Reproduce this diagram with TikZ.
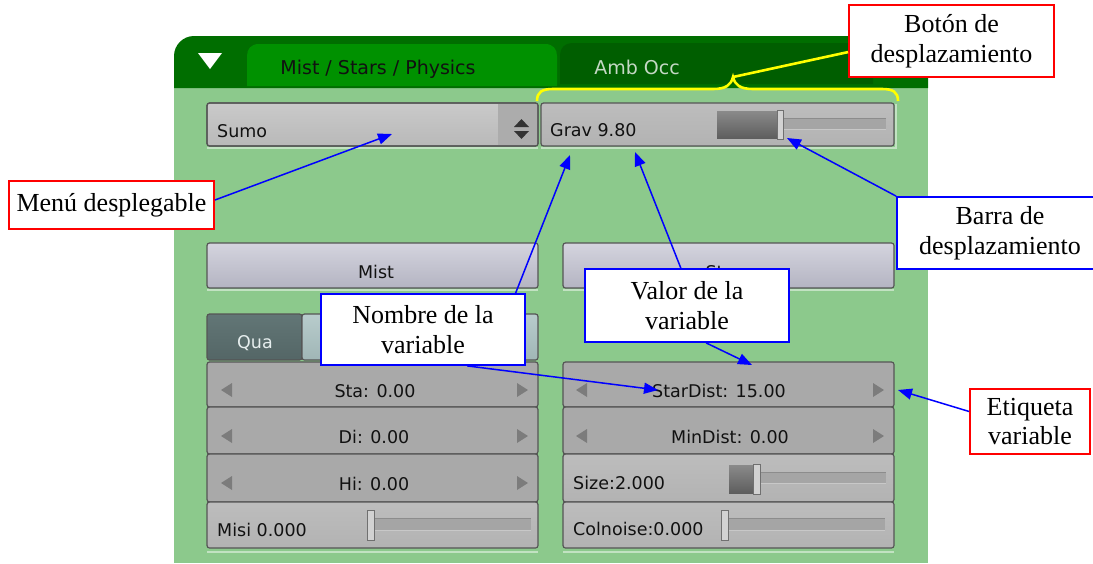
\documentclass[tikz,border=0pt]{standalone}
\usepackage{fontspec}
\setmainfont{Liberation Serif}
\newfontfamily\uifont{DejaVu Sans}
\usetikzlibrary{arrows.meta,calc}
\definecolor{bodygreen}{HTML}{8CC98C}
\definecolor{hdrgreen}{HTML}{006E00}
\definecolor{tabgreen}{HTML}{009100}
\definecolor{tabdark}{HTML}{005E00}
\definecolor{btnborder}{HTML}{555555}
\definecolor{fieldgray}{HTML}{A9A9A9}
\definecolor{arrowgray}{HTML}{7C7C7C}
\definecolor{uitext}{HTML}{111111}
\definecolor{hilite}{HTML}{C2E2C2}
\definecolor{ambtext}{HTML}{C4D8C4}
\definecolor{quatext}{HTML}{E6EEEE}
\definecolor{trackgray}{HTML}{A5A5A5}
\definecolor{trackdark}{HTML}{8C8C8C}
\definecolor{tracklight}{HTML}{C8C8C8}
\definecolor{handlegray}{HTML}{D2D2D2}
\definecolor{handleline}{HTML}{707070}
\definecolor{slidetop}{HTML}{8A8A8A}
\definecolor{slidebot}{HTML}{5E5E5E}
\definecolor{yel}{HTML}{FFFF00}
\begin{document}
\begin{tikzpicture}[x=1pt,y=-1pt,
  lbl/.style={font=\fontsize{26}{29.5}\selectfont, fill=white, align=center, line width=1.8pt, inner sep=0pt},
  redbox/.style={lbl, draw=red},
  bluebox/.style={lbl, draw=blue},
  ui/.style={font=\uifont\fontsize{17.5}{20}\selectfont, text=uitext, inner sep=0pt, anchor=base},
  uil/.style={ui, anchor=base west},
  tabtext/.style={ui, font=\uifont\fontsize{19}{22}\selectfont},
  btn/.style={draw=btnborder, line width=1.2pt, rounded corners=2.5pt},
  slidebtn/.style={btn, top color=gray!52, bottom color=gray!60},
  field/.style={btn, fill=fieldgray},
  mistbtn/.style={btn, top color={rgb,255:red,212;green,212;blue,222}, bottom color={rgb,255:red,180;green,180;blue,194}},
  conn/.style={blue, line width=1.5pt, -{Triangle[length=14pt,width=11pt]}},
  yline/.style={yel, line width=2.6pt},
  hl/.style={hilite, line width=1.2pt},
  slfill/.style={top color=slidetop, bottom color=slidebot},
  handle/.style={fill=handlegray, draw=handleline, line width=0.6pt},
  track/.style={fill=trackgray}
]
\clip (0,0) rectangle (1093,563);
\fill[white] (0,0) rectangle (1093,563);
% panel body and header
\fill[bodygreen] (174,86) rectangle (928,563);
\fill[hdrgreen] (174,88) -- (174,56) .. controls (174,45) and (183,36) .. (194,36) -- (928,36) -- (928,88) -- cycle;
\fill[tabgreen] (247,86) -- (247,56) .. controls (247,49) and (251,44) .. (259,44) -- (545,44) .. controls (553,44) and (557,49) .. (557,56) -- (557,86) -- cycle;
\fill[tabdark] (560,84) -- (560,55) .. controls (560,48) and (565,43) .. (572,43) -- (861,43) .. controls (868,43) and (873,48) .. (873,55) -- (873,84) -- cycle;
\fill[white] (198,53) -- (222,53) -- (210,69) -- cycle;
\node[tabtext] (tabmist) at (378,74) {Mist / Stars / Physics};
\node[tabtext, text=ambtext] (tabamb) at (637,74) {Amb Occ};

% row 1: Sumo menu and Grav slider
\path[btn, top color=gray!42, bottom color=gray!55] (207,103) rectangle (538,146);
\fill[gray!65] (498,104) rectangle (537.2,145.2);
\draw[btnborder, line width=1.2pt, rounded corners=2.5pt] (207,103) rectangle (538,146);
\fill[gray!40!black] (514,127) -- (529,127) -- (521.5,119) -- cycle;
\fill[gray!40!black] (514,131) -- (529,131) -- (521.5,139) -- cycle;
\node[uil] (sumo) at (217,137) {Sumo};
\path[slidebtn] (541,103) rectangle (894,146);
\node[uil] (grav) at (550,136) {Grav 9.80};
\path[slfill] (717,111) rectangle (777,138);
\path[track] (783,118) rectangle (886,129);
\draw[trackdark] (783,118.5) -- (886,118.5);
\draw[tracklight] (783,129) -- (886,129);
\path[handle] (777,110) rectangle (783,139);
\draw[hl] (207,148) -- (538,148);
\draw[hl] (541,148) -- (896,148) -- (896,104);

% row 2: Mist / Stars
\path[mistbtn] (207,243) rectangle (538,288);
\node[ui] (mist) at (376,278) {Mist};
\path[mistbtn] (563,243) rectangle (894,288);
\node[ui] (stars) at (728,278) {Stars};
\draw[hl] (207,290) -- (538,290);
\draw[hl] (563,290) -- (894,290);

% Qua row
\path[btn, top color={rgb,255:red,98;green,118;blue,118}, bottom color={rgb,255:red,84;green,102;blue,102}] (207,314) rectangle (302,360);
\node[ui, text=quatext] (qua) at (255,348) {Qua};
\path[btn, top color={rgb,255:red,184;green,204;blue,204}, bottom color={rgb,255:red,160;green,182;blue,182}] (302,314) rectangle (538,360);

% left column fields
\path[field] (207,362) rectangle (538,407);
\path[field] (207,407) rectangle (538,454);
\path[field] (207,454) rectangle (538,502);
\foreach \yy in {390,436,483}{
  \fill[arrowgray] (232,\yy-7) -- (232,\yy+7) -- (221,\yy) -- cycle;
  \fill[arrowgray] (517,\yy-7) -- (517,\yy+7) -- (528,\yy) -- cycle;
}
\node[ui] (sta) at (375,397) {Sta: 0.00};
\node[ui] (di) at (374,443) {Di: 0.00};
\node[ui] (hi) at (374,490) {Hi: 0.00};
\path[slidebtn] (207,502) rectangle (538,548);
\node[uil] (misi) at (217,536) {Misi 0.000};
\path[track] (374,518) rectangle (531,530);
\draw[trackdark] (374,518.5) -- (531,518.5);
\draw[tracklight] (374,530) -- (531,530);
\path[handle] (367,510) rectangle (374,540);

% right column fields
\path[field] (563,362) rectangle (894,407);
\path[field] (563,407) rectangle (894,454);
\foreach \yy in {390,436}{
  \fill[arrowgray] (587,\yy-7) -- (587,\yy+7) -- (576,\yy) -- cycle;
  \fill[arrowgray] (873,\yy-7) -- (873,\yy+7) -- (884,\yy) -- cycle;
}
\node[ui] (stardist) at (719,397) {StarDist: 15.00};
\node[ui] (mindist) at (730,443) {MinDist: 0.00};
\path[slidebtn] (563,454) rectangle (894,502);
\node[uil] (size) at (573,489) {Size:2.000};
\path[slfill] (729,465) rectangle (753,493);
\path[track] (760,472) rectangle (886,483);
\draw[trackdark] (760,472.5) -- (886,472.5);
\draw[tracklight] (760,483) -- (886,483);
\path[handle] (753,464) rectangle (760,494);
\path[slidebtn] (563,502) rectangle (894,548);
\node[uil] (colnoise) at (573,535) {Colnoise:0.000};
\path[track] (729,518) rectangle (885,530);
\draw[trackdark] (729,518.5) -- (885,518.5);
\draw[tracklight] (729,530) -- (885,530);
\path[handle] (721,510) rectangle (728,540);
\draw[hl] (207,552) -- (538,552);
\draw[hl] (563,552) -- (894,552);

% annotation boxes
\node[redbox, minimum width=205, minimum height=72] (boton) at (951.5,41) {Botón de\\desplazamiento};
\node[redbox, minimum width=205, minimum height=48] (menu) at (111.5,205) {Menú desplegable};
\node[bluebox, minimum width=204, minimum height=71] (nombre) at (423,329.5) {Nombre de la\\variable};
\node[bluebox, minimum width=204, minimum height=73] (valor) at (687,305.5) {Valor de la\\variable};
\node[bluebox, minimum width=206, minimum height=72] (barra) at (1000,233) {Barra de\\desplazamiento};
\node[redbox, minimum width=120, minimum height=65] (etiq) at (1030,421.5) {Etiqueta\\variable};

% targets
\coordinate (sumoT) at (392,134);
\coordinate (gravNameT) at (570,155);
\coordinate (gravValT) at (635,152);
\coordinate (sliderT) at (787,138);
\coordinate (starNameT) at (658,390);
\coordinate (starValT) at (752,365);
\coordinate (fieldT) at (898,390);
\coordinate (braceTip) at (733,77);

% yellow brace
\draw[yline] (537,101) .. controls (537,92) and (542,89) .. (553,89) -- (713,89) .. controls (726,89) and (731,85) .. (braceTip) .. controls (735,85) and (740,89) .. (753,89) -- (882,89) .. controls (893,89) and (898,92) .. (898,101);
\draw[yline] (braceTip) -- ($(boton.north west)!.65!(boton.south west)$);

% connectors
\draw[conn] ($(menu.north east)!.4!(menu.south east)$) -- (sumoT);
\draw[conn] ($(nombre.north west)!.95!(nombre.north east)$) -- (gravNameT);
\draw[conn] ($(nombre.south west)!.715!(nombre.south east)$) -- (starNameT);
\draw[conn] ($(valor.north west)!.47!(valor.north east)$) -- (gravValT);
\draw[conn] ($(valor.south west)!.593!(valor.south east)$) -- (starValT);
\draw[conn] (barra.north west) -- (sliderT);
\draw[conn] ($(etiq.north west)!.35!(etiq.south west)$) -- (fieldT);
\end{tikzpicture}
\end{document}
